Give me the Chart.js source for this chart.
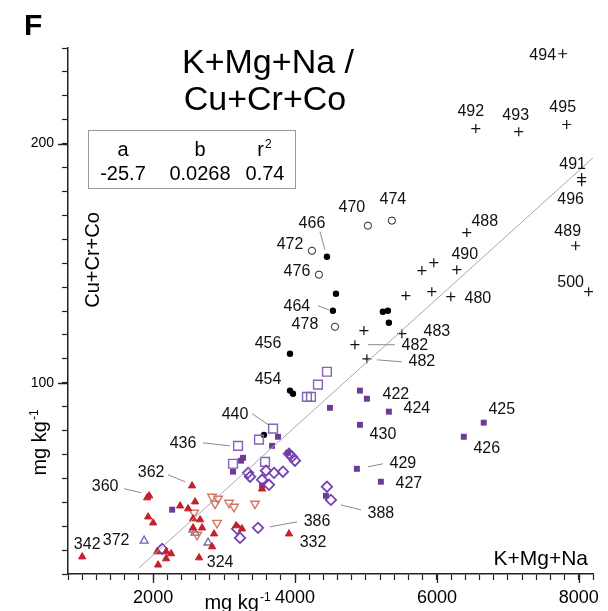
<!DOCTYPE html>
<html>
<head>
<meta charset="utf-8">
<script src="https://cdn.jsdelivr.net/npm/chart.js@4.4.1/dist/chart.umd.min.js"></script>
<style>
  html, body { margin: 0; padding: 0; background: #fff; }
  #wrap { width: 608px; height: 611px; }
</style>
</head>
<body>
<div id="wrap"><canvas id="chart" width="608" height="611"></canvas></div>
<script>
// K+Mg+Na vs Cu+Cr+Co (mg/kg), panel F

// regression y = a + b*x
const FIT_A = -25.7;
const FIT_B = 0.0268;
const FIT_R2 = 0.74;
const FIT_X = [1800, 8200];

const X_TICKS = [2000, 4000, 6000, 8000];
const Y_TICKS = [100, 200];

// crosses (+)
const crossPts = [
    [7773, 237.6], [6548, 206.3], [7153, 205.0], [7829, 208.0], [8040, 185.8], [8040, 184.1],
    [6421, 162.8], [7956, 157.3], [6280, 147.3], [8139, 138.1], [6196, 136.0], [5788, 146.9],
    [5956, 150.2], [5562, 136.4], [5928, 138.1], [5506, 120.5], [4971, 121.8], [4844, 115.9],
    [5013, 110.0]
];
// filled black circles
const dotPts = [
    [4450, 152.7], [4577, 137.2], [4534, 130.1], [5238, 129.7], [5309, 130.1], [5323, 125.1],
    [3929, 112.1], [3929, 96.7], [3971, 95.4], [3563, 78.2]
];
// open circles
const ringPts = [
    [5027, 165.7], [5365, 167.8], [4239, 155.2], [4337, 145.2], [4563, 123.4]
];
// open purple squares
const openSqPts = [
    [4450, 104.6], [4323, 99.2], [4168, 94.1], [4225, 94.1], [3690, 80.8], [3492, 76.2],
    [3197, 73.6], [3126, 66.1], [3577, 66.9]
];
// filled purple squares
const fillSqPts = [
    [3760, 77.4], [3676, 73.6], [3267, 68.6], [3239, 67.4], [3126, 62.8], [3901, 70.7],
    [2268, 46.9], [4915, 96.7], [5013, 93.3], [5323, 87.9], [4492, 89.5], [4915, 82.4],
    [6660, 83.3], [6379, 77.4], [4872, 64.0], [5210, 58.6], [4436, 52.7], [3535, 57.0]
];
// open purple diamonds
const diamondPts = [
    [3338, 62.3], [3366, 60.7], [3591, 63.2], [3704, 62.3], [3830, 62.8], [3535, 59.4],
    [3633, 57.3], [3915, 70.3], [3957, 69.0], [3999, 67.4], [4450, 56.5], [4506, 51.0],
    [3478, 39.3], [3183, 38.9], [3225, 35.1], [2127, 30.5]
];
// filled red triangles
const redTriPts = [
    [1000, 27.2], [1916, 51.9], [1944, 52.7], [1930, 43.9], [2000, 41.4], [2380, 48.5],
    [2493, 47.3], [2549, 56.9], [2591, 50.2], [2563, 43.1], [2662, 42.7], [2690, 39.3],
    [2563, 39.3], [2859, 36.8], [2831, 31.4], [2648, 26.8], [2056, 29.3], [2183, 29.3],
    [2253, 28.5], [2070, 23.8], [2183, 26.4], [3169, 40.2], [3253, 38.9], [3535, 55.6],
    [3915, 36.8]
];
// open inverted triangles (salmon)
const downTriPts = [
    [2831, 52.3], [2915, 51.5], [2873, 49.4], [3070, 49.8], [3140, 48.1], [3436, 49.4],
    [2577, 45.6], [2901, 41.4], [2620, 36.4]
];
// open blue triangles
const blueTriPts = [
    [1873, 33.9], [2591, 37.2], [2563, 38.5], [2774, 33.1]
];

// sample numbers: [text, x, y]
const sampleTags = [
    ['494', 7773, 237.6], ['492', 6548, 206.3], ['493', 7153, 205.0], ['495', 7829, 208.0],
    ['491', 8040, 185.8], ['496', 8040, 184.1], ['488', 6421, 162.8], ['489', 7956, 157.3],
    ['490', 6280, 147.3], ['500', 8139, 138.1], ['480', 6196, 136.0], ['483', 5506, 120.5],
    ['482', 4844, 115.9], ['482', 5013, 110.0], ['466', 4450, 152.7], ['472', 4239, 155.2],
    ['476', 4337, 145.2], ['470', 5027, 165.7], ['474', 5365, 167.8], ['464', 4534, 130.1],
    ['478', 4563, 123.4], ['456', 3929, 112.1], ['454', 3929, 96.7], ['440', 3690, 80.8],
    ['436', 3197, 73.6], ['362', 2549, 56.9], ['360', 1916, 51.9], ['342', 1000, 27.2],
    ['372', 1873, 33.9], ['324', 2648, 26.8], ['386', 3478, 39.3], ['332', 3915, 36.8],
    ['388', 4506, 51.0], ['422', 5013, 93.3], ['424', 5323, 87.9], ['430', 4915, 82.4],
    ['425', 6660, 83.3], ['426', 6379, 77.4], ['429', 4872, 64.0], ['427', 5210, 58.6]
];
// label offsets in px from the point (same order), optional leader [x1,y1,x2,y2]
const tagOffsets = [
    [-20, 2], [-5, -17], [-3, -16], [-4, -17],
    [-9, -13], [-11, 18], [18, -11], [-8, -14],
    [8, -15], [-18, -9], [27, 2], [35, -2],
    [60, 1, [13, 0, 40, 0]], [55, 3, [10, 1, 35, 3]], [-15, -33, [-7, -25, -2, -7]], [-22, -6],
    [-22, -3], [-16, -18], [1, -21], [-36, -4, [-15, -5, -4, -1]],
    [-30, -2], [-22, -10], [-22, -11], [-38, -14, [-21, -15, -5, -4]],
    [-55, -2, [-35, -3, -8, 0]], [-41, -13, [-24, -11, -7, -4]], [-42, -11, [-23, -9, -6, -5]], [5, -12],
    [-28, 0], [21, 5], [59, -6, [12, -1, 39, -6]], [24, 9],
    [50, 14, [10, 5, 30, 10]], [29, -4], [28, -3], [23, 10],
    [18, -13], [23, 12], [46, -5, [11, -2, 26, -5]], [28, 2]
];

const toXY = arr => arr.map(p => ({ x: p[0], y: p[1] }));

const FONT = "'Liberation Sans', Arial, Helvetica, sans-serif";

function supText(ctx, base, sup, x, y, size, align) {
    ctx.font = size + 'px ' + FONT;
    const w1 = ctx.measureText(base).width;
    ctx.font = Math.round(size * 0.6) + 'px ' + FONT;
    const w2 = ctx.measureText(sup).width;
    let sx = x;
    if (align === 'center') sx = x - (w1 + w2) / 2;
    ctx.textAlign = 'left';
    ctx.font = size + 'px ' + FONT;
    ctx.fillText(base, sx, y);
    ctx.font = Math.round(size * 0.6) + 'px ' + FONT;
    ctx.fillText(sup, sx + w1 + 1, y - size * 0.4);
}

const decorPlugin = {
    id: 'decor',
    afterDatasetsDraw(chart) {
        const ctx = chart.ctx;
        const xs = chart.scales.x, ys = chart.scales.y;
        ctx.save();
        // sample numbers + leader lines
        ctx.fillStyle = '#111';
        ctx.font = '16px ' + FONT;
        ctx.textAlign = 'center';
        ctx.textBaseline = 'middle';
        sampleTags.forEach((t, i) => {
            const px = xs.getPixelForValue(t[1]);
            const py = ys.getPixelForValue(t[2]);
            const off = tagOffsets[i];
            ctx.fillText(t[0], px + off[0], py + off[1]);
            if (off[2]) {
                const l = off[2];
                ctx.strokeStyle = '#8a8a8a';
                ctx.lineWidth = 1;
                ctx.beginPath();
                ctx.moveTo(px + l[0], py + l[1]);
                ctx.lineTo(px + l[2], py + l[3]);
                ctx.stroke();
            }
        });
        ctx.restore();
    },
    afterDraw(chart) {
        const ctx = chart.ctx;
        const area = chart.chartArea;
        const xs = chart.scales.x, ys = chart.scales.y;
        ctx.save();

        // longer major ticks
        ctx.strokeStyle = '#222';
        ctx.lineWidth = 1.3;
        ctx.beginPath();
        X_TICKS.forEach(v => {
            const px = Math.round(xs.getPixelForValue(v)) + 0.5;
            ctx.moveTo(px, area.bottom);
            ctx.lineTo(px, area.bottom + 9);
        });
        Y_TICKS.forEach(v => {
            const py = Math.round(ys.getPixelForValue(v)) + 0.5;
            ctx.moveTo(area.left, py);
            ctx.lineTo(area.left - 10, py);
        });
        ctx.stroke();

        ctx.fillStyle = '#000';
        ctx.textBaseline = 'alphabetic';

        // panel letter
        ctx.font = 'bold 30px ' + FONT;
        ctx.textAlign = 'left';
        ctx.fillText('F', 24, 35);

        // title
        ctx.font = '34px ' + FONT;
        ctx.textAlign = 'center';
        ctx.fillText('K+Mg+Na /', 268, 73);
        ctx.fillText('Cu+Cr+Co', 265, 110);

        // coefficient box
        ctx.strokeStyle = '#999';
        ctx.lineWidth = 1;
        ctx.strokeRect(88.5, 130.5, 207, 58);
        ctx.font = '20px ' + FONT;
        ctx.fillText('a', 123, 156);
        ctx.fillText('b', 200, 156);
        ctx.fillText(String(FIT_A), 123, 180);
        ctx.fillText(String(FIT_B), 200, 180);
        ctx.fillText(FIT_R2.toFixed(2), 265, 180);
        supText(ctx, 'r', '2', 264, 156, 20, 'center');

        // axis names inside the plot
        ctx.font = '21px ' + FONT;
        ctx.textAlign = 'right';
        ctx.fillText('K+Mg+Na', area.right - 5, area.bottom - 9);

        ctx.save();
        ctx.translate(99, 260);
        ctx.rotate(-Math.PI / 2);
        ctx.font = '20px ' + FONT;
        ctx.textAlign = 'center';
        ctx.fillText('Cu+Cr+Co', 0, 0);
        ctx.restore();

        // units
        supText(ctx, 'mg kg', '-1', 237, 609, 20, 'center');
        ctx.save();
        ctx.translate(46, 443);
        ctx.rotate(-Math.PI / 2);
        supText(ctx, 'mg kg', '-1', 0, 0, 20, 'center');
        ctx.restore();

        ctx.restore();
    }
};

const fitLine = FIT_X.map(x => ({ x: x, y: FIT_A + FIT_B * x }));

new Chart(document.getElementById('chart'), {
    type: 'scatter',
    data: {
        datasets: [{
            type: 'line',
            data: fitLine,
            borderColor: '#a8a8a8',
            borderWidth: 1,
            pointRadius: 0,
            fill: false
        }, {
            data: toXY(redTriPts),
            pointStyle: 'triangle',
            pointRadius: 4.2,
            backgroundColor: '#c4202a',
            borderColor: '#c4202a',
            borderWidth: 1
        }, {
            data: toXY(downTriPts),
            pointStyle: 'triangle',
            rotation: 180,
            pointRadius: 5,
            backgroundColor: 'rgba(0,0,0,0)',
            borderColor: '#d47762',
            borderWidth: 1.4
        }, {
            data: toXY(blueTriPts),
            pointStyle: 'triangle',
            pointRadius: 4.6,
            backgroundColor: 'rgba(0,0,0,0)',
            borderColor: '#6c68b0',
            borderWidth: 1.3
        }, {
            data: toXY(diamondPts),
            pointStyle: 'rectRot',
            pointRadius: 5.2,
            backgroundColor: 'rgba(0,0,0,0)',
            borderColor: '#7442b4',
            borderWidth: 1.8
        }, {
            data: toXY(openSqPts),
            pointStyle: 'rect',
            pointRadius: 6.2,
            backgroundColor: 'rgba(0,0,0,0)',
            borderColor: '#8562b8',
            borderWidth: 1.4
        }, {
            data: toXY(fillSqPts),
            pointStyle: 'rect',
            pointRadius: 4.2,
            backgroundColor: '#6e3b94',
            borderColor: '#6e3b94',
            borderWidth: 0
        }, {
            data: toXY(ringPts),
            pointStyle: 'circle',
            pointRadius: 3.6,
            backgroundColor: 'rgba(0,0,0,0)',
            borderColor: '#222',
            borderWidth: 1
        }, {
            data: toXY(dotPts),
            pointStyle: 'circle',
            pointRadius: 3.2,
            backgroundColor: '#000',
            borderColor: '#000',
            borderWidth: 0
        }, {
            data: toXY(crossPts),
            pointStyle: 'cross',
            pointRadius: 4.5,
            borderColor: '#111',
            borderWidth: 1.2
        }]
    },
    options: {
        responsive: false,
        animation: false,
        devicePixelRatio: 1,
        layout: { padding: { left: 0, top: 48, right: 15, bottom: 0 } },
        plugins: {
            legend: { display: false },
            tooltip: { enabled: false },
            title: { display: false }
        },
        scales: {
            x: {
                type: 'linear',
                min: 800,
                max: 8200,
                afterFit: s => { s.height = 37; },
                border: { color: '#222', width: 1.5 },
                grid: { drawOnChartArea: false, tickLength: 6, color: '#222', tickWidth: 1.2 },
                ticks: {
                    stepSize: 200,
                    autoSkip: false,
                    maxTicksLimit: 100,
                    maxRotation: 0,
                    padding: 7,
                    color: '#000',
                    font: { family: FONT, size: 18 },
                    callback: v => X_TICKS.includes(v) ? String(v) : ''
                }
            },
            y: {
                type: 'linear',
                min: 20,
                max: 240,
                afterFit: s => { s.width = 68; },
                border: { color: '#222', width: 1.5 },
                grid: { drawOnChartArea: false, tickLength: 6, color: '#222', tickWidth: 1.2 },
                ticks: {
                    stepSize: 10,
                    autoSkip: false,
                    maxTicksLimit: 100,
                    padding: 8,
                    color: '#000',
                    font: { family: FONT, size: 14 },
                    callback: v => Y_TICKS.includes(v) ? String(v) : ''
                }
            }
        }
    },
    plugins: [decorPlugin]
});
</script>
</body>
</html>
